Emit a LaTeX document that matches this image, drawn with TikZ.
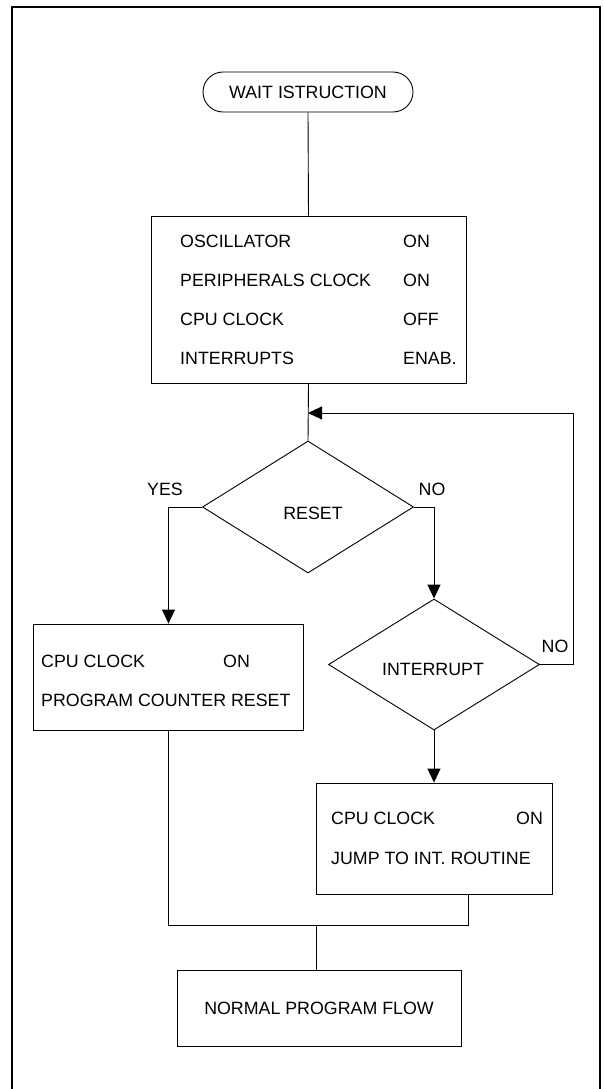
\documentclass[tikz,border=0pt]{standalone}
\usepackage{fontspec}
\setmainfont{Liberation Sans}
\usetikzlibrary{shapes.geometric,arrows.meta,calc}
\begin{document}
\begin{tikzpicture}[x=1pt,y=-1pt,
  txt/.style={font=\fontsize{17.8pt}{20pt}\selectfont, inner sep=0pt, text height=12.8pt, text depth=0pt},
  lt/.style={txt, anchor=west},
  ln/.style={line width=0.9pt},
  box/.style={draw, ln, rectangle, inner sep=0pt},
  dia/.style={draw, ln, diamond, inner sep=0pt},
  arr/.style={ln, -{Triangle[length=14pt,width=13pt]}},
]
\useasboundingbox (0,0) rectangle (603,1089);
\draw[line width=2pt] (12,1120) -- (12,7) -- (600,7) -- (600,1120);

% terminal
\node[box, txt, rounded corners=20pt, minimum width=210pt, minimum height=40pt] (term) at (308,92) {WAIT ISTRUCTION};

% box 1
\node[box, minimum width=315pt, minimum height=167pt] (b1) at (308.5,299.5) {};
\node[lt] (b1l1) at (180,241) {OSCILLATOR};
\node[lt] (b1r1) at (403,241) {ON};
\node[lt] (b1l2) at (180,280) {PERIPHERALS CLOCK};
\node[lt] (b1r2) at (403,280) {ON};
\node[lt] (b1l3) at (180,319) {CPU CLOCK};
\node[lt] (b1r3) at (403,319) {OFF};
\node[lt] (b1l4) at (180,358) {INTERRUPTS};
\node[lt] (b1r4) at (403,358) {ENAB.};

% reset decision
\node[dia, minimum width=211pt, minimum height=132pt] (reset) at (308,507) {};
\node[txt] (resett) at (313,513) {RESET};
\node[txt] (yes) at (165,489) {YES};
\node[txt] (no1) at (432,489) {NO};

% box 2
\node[box, minimum width=270pt, minimum height=106pt] (b2) at (168.5,677) {};
\node[lt] (b2l1) at (41,661) {CPU CLOCK};
\node[lt] (b2r1) at (223,661) {ON};
\node[lt] (b2l2) at (41,700) {PROGRAM COUNTER RESET};

% interrupt decision
\node[dia, minimum width=211pt, minimum height=131pt] (int) at (434,664.5) {};
\node[txt] (intt) at (433,669) {INTERRUPT};
\node[txt] (no2) at (555,646) {NO};

% box 3
\node[box, minimum width=236pt, minimum height=111pt] (b3) at (434,838.5) {};
\node[lt] (b3l1) at (331,818) {CPU CLOCK};
\node[lt] (b3r1) at (516,818) {ON};
\node[lt] (b3l2) at (331,858) {JUMP TO INT. ROUTINE};

% normal flow
\node[box, txt, minimum width=284pt, minimum height=76pt] (nf) at (319,1008) {NORMAL PROGRAM FLOW};

% connectors
\coordinate (loopin) at (308,413);
\coordinate (merge) at (316,925);
\coordinate (b3out) at (468,894);
\draw[ln] (term.south) -- (b1.north);
\draw[ln] (b1.south) -- (reset.north);
\draw[arr] (reset.west) -| (b2.north);
\draw[arr] (reset.east) -| (int.north);
\draw[arr] (int.south) -- (b3.north);
\draw[arr] (int.east) -- ++(33,0) |- (loopin);
\draw[ln] (b2.south) |- (merge) -| (b3out);
\draw[ln] (merge) -- (merge |- nf.north);
\end{tikzpicture}
\end{document}
